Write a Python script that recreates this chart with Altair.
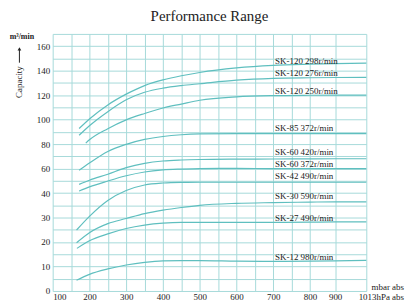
import altair as alt
import pandas as pd

# ---- data ----
series = [
    "SK-120 298r/min", "SK-120 276r/min", "SK-120 250r/min", "SK-85 372r/min",
    "SK-60 420r/min", "SK-60 372r/min", "SK-42 490r/min", "SK-30 590r/min",
    "SK-27 490r/min", "SK-12 980r/min",
]
common_x = [200, 250, 300, 350, 400, 450, 500, 600, 700, 800, 900, 1013]
start_x = [172, 172, 190, 172, 172, 172, 165, 165, 166, 165]

sk120_298 = [92.7, 100.5, 112.0, 120.8, 127.8, 132.4, 135.8, 138.5, 142.2, 144.3, 145.3, 145.8, 146.2]
sk120_276 = [87.2, 95.0, 106.5, 116.2, 122.3, 125.7, 127.8, 129.3, 132.2, 133.7, 134.2, 134.4, 134.5]
sk120_250 = [80.8, 83.5, 92.6, 99.8, 105.0, 109.5, 112.7, 115.8, 118.6, 119.6, 119.9, 120.0, 120.0]
sk85_372 = [58.6, 64.5, 74.0, 79.8, 83.8, 86.2, 87.6, 88.3, 88.6, 88.6, 88.5, 88.5, 88.5]
sk60_420 = [47.1, 50.5, 55.4, 60.8, 64.3, 66.2, 67.0, 67.4, 67.7, 67.8, 67.9, 68.0, 68.0]
sk60_372 = [41.6, 45.0, 49.8, 54.1, 57.2, 58.9, 59.6, 60.0, 60.1, 60.0, 60.0, 60.0, 60.0]
sk42_490 = [24.9, 30.5, 37.0, 42.1, 46.6, 48.2, 48.7, 48.8, 48.8, 48.8, 48.8, 48.8, 48.8]
sk30_590 = [19.7, 23.8, 27.5, 29.6, 31.6, 33.0, 34.1, 35.0, 35.8, 36.1, 36.3, 36.4, 36.4]
sk27_490 = [17.4, 20.5, 23.3, 25.5, 26.9, 27.7, 28.0, 28.0, 28.0, 28.0, 28.1, 28.2, 28.2]
sk12_980 = [4.4, 6.8, 9.0, 10.6, 11.7, 12.3, 12.4, 12.4, 12.2, 12.1, 12.2, 12.3, 12.5]
values = [sk120_298, sk120_276, sk120_250, sk85_372, sk60_420, sk60_372,
          sk42_490, sk30_590, sk27_490, sk12_980]

label_x = [705] * 10
label_y = [147.6, 137.8, 123.7, 93.2, 73.5, 63.5, 54.1, 38.8, 30.0, 14.0]

grid_x = [100, 150, 200, 250, 300, 350, 400, 450, 500, 550, 600, 650, 700, 750, 800, 900, 1013]
grid_y = [0, 5, 10, 15, 20, 25, 30, 35, 40, 50, 60, 70, 80, 90, 100, 110, 120, 130, 140, 150, 160, 170]
x_labels = [100, 200, 300, 400, 500, 600, 700, 800, 900]
y_labels = [0, 10, 20, 30, 40, 60, 80, 100, 120, 140, 160]
unit_texts = ["mbar abs", "1013hPa abs"]

# ---- build tables ----
rows = []
for name, sx, vals in zip(series, start_x, values):
    for xv, yv in zip([sx] + common_x, vals):
        rows.append({"series": name, "p": xv, "q": yv})
df = pd.DataFrame(rows)
lab = pd.DataFrame({"series": series, "p": label_x, "q": label_y})

W, H = 316, 259
step = H / 10.5
FONT = "Liberation Serif"
GRID = "#a6dada"
LINE = "#5fbfbf"
TXT = "#222222"

xscale = alt.Scale(domain=[100, 800, 900, 1013],
                   range=[0, 7 * 37.04, 7.683 * 37.04, W], zero=False, nice=False)
yscale = alt.Scale(domain=[0, 40, 170], range=[H, H - 4 * step, 0], zero=False, nice=False)

xl = ",".join(str(v) for v in x_labels)
yl = ",".join(str(v) for v in y_labels)

xaxis = alt.Axis(values=grid_x, title=None, grid=True, gridColor=GRID, gridWidth=1,
                 domain=False, ticks=False, labelFont=FONT, labelFontSize=9,
                 labelColor=TXT, labelPadding=2, labelFlush=True,
                 labelExpr=f"indexof([{xl}], datum.value) >= 0 ? datum.label : ''")
yaxis = alt.Axis(values=grid_y, title="Capacity", grid=True, gridColor=GRID, gridWidth=1,
                 domain=False, ticks=False, labelFont=FONT, labelFontSize=9,
                 labelColor=TXT, labelPadding=3,
                 labelExpr=f"indexof([{yl}], datum.value) >= 0 ? datum.label : ''",
                 titleFont=FONT, titleFontSize=9, titleFontWeight="normal", titleColor=TXT,
                 titleX=-34, titleY=48, titleAngle=270, titleAlign="center",
                 titleBaseline="middle")


def X():
    return alt.X("p:Q", scale=xscale, axis=xaxis)


def Y():
    return alt.Y("q:Q", scale=yscale, axis=yaxis)


lines = alt.Chart(df).mark_line(color=LINE, strokeWidth=1.2, interpolate="monotone").encode(
    x=X(), y=Y(), detail="series:N",
)

labels = alt.Chart(lab).mark_text(align="left", baseline="middle", font=FONT,
                                   fontSize=9, color=TXT).encode(
    x=X(), y=Y(), text="series:N",
)

unit1 = alt.Chart(pd.DataFrame({"t": [unit_texts[0]], "p": [1013], "q": [0]})).mark_text(
    align="right", baseline="middle", font=FONT, fontSize=9, color=TXT, dx=38, dy=-4
).encode(x=X(), y=Y(), text="t:N")
unit2 = alt.Chart(pd.DataFrame({"t": [unit_texts[1]], "p": [1013], "q": [0]})).mark_text(
    align="right", baseline="middle", font=FONT, fontSize=9, color=TXT, dx=38, dy=6
).encode(x=X(), y=Y(), text="t:N")

m3 = alt.Chart(pd.DataFrame({"t": ["m³/min"]})).mark_text(
    align="center", baseline="middle", font=FONT, fontSize=8, fontWeight="bold", color=TXT
).encode(x=alt.value(-31), y=alt.value(3), text="t:N")

arrow = alt.Chart(pd.DataFrame({"a": [0]})).mark_rule(color=TXT, strokeWidth=1).encode(
    x=alt.value(-33.5), y=alt.value(15), y2=alt.value(29))
head = alt.Chart(pd.DataFrame({"a": [0]})).mark_point(
    shape="triangle-up", filled=True, color=TXT, size=14, opacity=1).encode(
    x=alt.value(-33.5), y=alt.value(15))

chart = alt.layer(lines, labels, unit1, unit2, m3, arrow, head).properties(
    width=W, height=H,
    title=alt.TitleParams("Performance Range", font=FONT, fontSize=15,
                          fontWeight="normal", color=TXT, offset=9, anchor="middle"),
    autosize=alt.AutoSizeParams(type="none"),
    padding={"left": 45, "top": 25, "right": 40, "bottom": 10},
).configure_view(stroke=None)

chart.save("out.html", embed_options={"renderer": "svg", "actions": False})
